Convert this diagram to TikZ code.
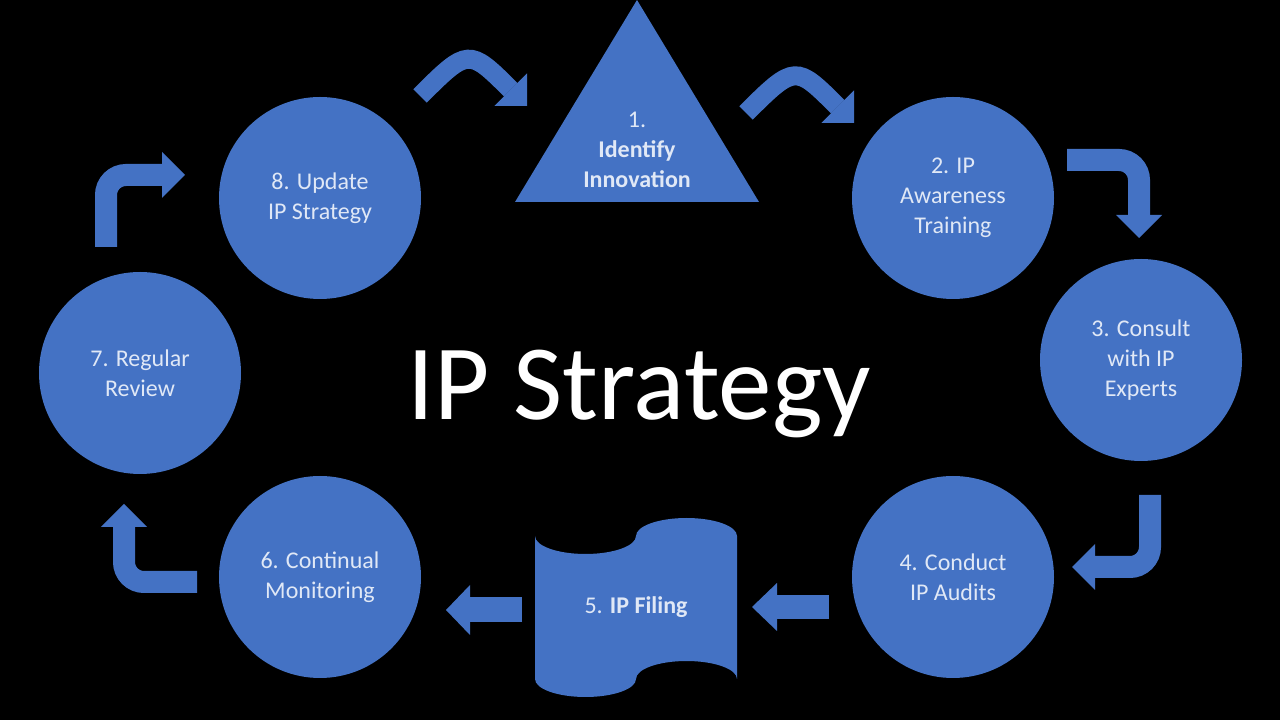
\documentclass[tikz,border=0pt]{standalone}
\usepackage{fontspec}
\setmainfont{Carlito}
\usetikzlibrary{arrows.meta}
\definecolor{ipblue}{HTML}{4472C4}
\definecolor{iptext}{HTML}{E0E8F6}
\tikzset{
  stage/.style={circle, fill=ipblue, minimum size=202pt, inner sep=0pt, text=iptext,
    align=center, font=\fontsize{24}{30}\selectfont},
  label/.style={text=iptext, align=center, font=\fontsize{24}{30}\selectfont},
  blockarrow/.style={draw=ipblue, line width=22pt, rounded corners=20pt,
    -{Triangle[length=23pt,width=46pt,line width=0pt 0]}}
}
\begin{document}
\begin{tikzpicture}[x=1pt,y=1pt]
        \useasboundingbox (0,0) rectangle (1280,720);
        \fill[black] (0,0) rectangle (1280,720);
        \fill[ipblue] (515,518) -- (637,720) -- (759,518) -- cycle;
        \node[label] (identify) at (637,570) {1.\\\textbf{Identify}\\\textbf{Innovation}};
        \node[stage] (awareness) at (953,522) {2. IP\\Awareness\\Training};
        \node[stage] (consult) at (1141,360) {3. Consult\\with IP\\Experts};
        \node[stage] (audit) at (953,143) {4. Conduct\\IP Audits};
        \fill[ipblue] (535,184) arc[start angle=180,end angle=360,x radius=50.5,y radius=18]
          arc[start angle=180,end angle=0,x radius=50.5,y radius=18] -- (737,41)
          arc[start angle=0,end angle=180,x radius=50.5,y radius=18]
          arc[start angle=0,end angle=-180,x radius=50.5,y radius=18] -- cycle;
        \node[label] (filing) at (636,113) {5. \textbf{IP Filing}};
        \node[stage] (monitor) at (320,143) {6. Continual\\Monitoring};
        \node[stage] (review) at (140,347) {7. Regular\\Review};
        \node[stage] (update) at (320,522) {8. Update\\IP Strategy};
        \node[text=white, anchor=base, font=\fontsize{107}{120}\selectfont] (title) at (639,300) {IP Strategy};
        \coordinate (u1) at (420,624);  \coordinate (i1) at (527,614);
        \coordinate (i2) at (746,607);  \coordinate (a2) at (854,597);
        \coordinate (a3) at (1067,560); \coordinate (c3) at (1139,482);
        \coordinate (c4) at (1150,225); \coordinate (d4) at (1072,153);
        \coordinate (d5) at (829,113);  \coordinate (f5) at (752,113);
        \coordinate (f6) at (522,110);  \coordinate (m6) at (446,110);
        \coordinate (m7) at (197,138);  \coordinate (r7) at (124,216);
        \coordinate (r8) at (106,473);  \coordinate (u8) at (185,545);
        \draw[blockarrow, line width=19pt] (u1) .. controls (468,672) and (469,672) .. (i1);
        \draw[blockarrow, line width=19pt] (i2) .. controls (795,656) and (796,655) .. (a2);
        \draw[blockarrow] (a3) -| (c3);
        \draw[blockarrow] (c4) |- (d4);
        \draw[blockarrow, line width=24pt, -{Triangle[length=25pt,width=48pt,line width=0pt 0]}] (d5) -- (f5);
        \draw[blockarrow, line width=25pt, -{Triangle[length=24pt,width=50pt,line width=0pt 0]}] (f6) -- (m6);
        \draw[blockarrow] (m7) -| (r7);
        \draw[blockarrow] (r8) |- (u8);
      \end{tikzpicture}
\end{document}
